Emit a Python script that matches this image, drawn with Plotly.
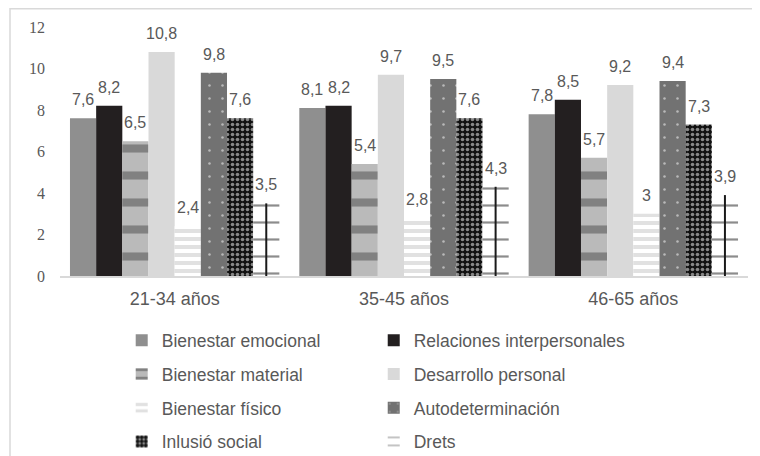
import plotly.graph_objects as go

categories = ["21-34 años", "35-45 años", "46-65 años"]
series_names = ["Bienestar emocional", "Relaciones interpersonales", "Bienestar material",
                "Desarrollo personal", "Bienestar físico", "Autodeterminación",
                "Inlusió social", "Drets"]
bienestar_emocional = [7.6, 8.1, 7.8]
relaciones_interpersonales = [8.2, 8.2, 8.5]
bienestar_material = [6.5, 5.4, 5.7]
desarrollo_personal = [10.8, 9.7, 9.2]
bienestar_fisico = [2.4, 2.8, 3.0]
autodeterminacion = [9.8, 9.5, 9.4]
inclusio_social = [7.6, 7.6, 7.3]
drets = [3.5, 4.3, 3.9]
y_ticks = [0, 2, 4, 6, 8, 10, 12]

values = [bienestar_emocional, relaciones_interpersonales, bienestar_material,
          desarrollo_personal, bienestar_fisico, autodeterminacion, inclusio_social, drets]

styles = [
    dict(color="#8f8f8f"),
    dict(color="#231f20"),
    dict(color="#b8b8b8", pattern=dict(shape="-", fgcolor="#474747", bgcolor="#bababa", size=27, solidity=0.3)),
    dict(color="#d9d9d9"),
    dict(color="#ffffff", pattern=dict(shape="-", fgcolor="#c4c4c4", bgcolor="#ffffff", size=8, solidity=0.5)),
    dict(color="#727272", pattern=dict(shape=".", fgcolor="#ffffff", bgcolor="#727272", size=13, solidity=0.03)),
    dict(color="#111111", pattern=dict(shape=".", fgcolor="#ffffff", bgcolor="#111111", size=5, solidity=0.4)),
    dict(color="#ffffff", pattern=dict(shape="-", fgcolor="#1a1a1a", bgcolor="#ffffff", size=17, solidity=0.13),
         center_line=True),
]

W, H = 760, 456
ML, MR, MT, MB = 52, 20, 19, 188
BARGAP = 0.087
plot_w = W - ML - MR
plot_h = H - MT - MB
cat_w = plot_w / len(categories)
bar_w = cat_w * (1 - BARGAP) / len(series_names)

fig = go.Figure()
for i, (name, vals, st) in enumerate(zip(series_names, values, styles)):
    marker = dict(color=st["color"], line=dict(width=0))
    if "pattern" in st:
        marker["pattern"] = st["pattern"]
    kw = {}
    if st.get("center_line"):
        kw["error_y"] = dict(type="data", symmetric=False, array=[0] * len(vals),
                             arrayminus=vals, width=0, thickness=2, color="#1a1a1a")
    fig.add_trace(go.Bar(
        name=name, x=categories, y=vals, marker=marker,
        legend="legend" if i % 2 == 0 else "legend2",
        legendgroup=name, hoverinfo="skip", **kw,
    ))

annotations = []
for i, vals in enumerate(values):
    for c, v in zip(categories, vals):
        annotations.append(dict(
            x=c, y=v, xref="x", yref="y", text=f"{v:g}".replace(".", ","),
            showarrow=False, xanchor="center", yanchor="bottom",
            xshift=(i - (len(series_names) - 1) / 2) * bar_w, yshift=8,
            font=dict(family="Liberation Sans", size=16, color="#595959"),
        ))

legend_font = dict(family="Liberation Sans", size=17.5, color="#595959")
fig.update_layout(
    width=W, height=H,
    margin=dict(l=ML, r=MR, t=MT, b=MB, autoexpand=False),
    paper_bgcolor="white", plot_bgcolor="white",
    barmode="group", bargap=BARGAP, bargroupgap=0,
    showlegend=True,
    legend=dict(x=0.0897, y=-0.186, xanchor="left", yanchor="top", orientation="v",
                font=legend_font, tracegroupgap=8, bgcolor="rgba(0,0,0,0)"),
    legend2=dict(x=0.456, y=-0.186, xanchor="left", yanchor="top", orientation="v",
                 font=legend_font, tracegroupgap=8, bgcolor="rgba(0,0,0,0)"),
    xaxis=dict(showline=True, linecolor="#d9d9d9", linewidth=1.5, ticks="",
               showgrid=False, zeroline=False,
               tickfont=dict(family="Liberation Sans", size=18, color="#595959"),
               ticklabelstandoff=6),
    yaxis=dict(range=[0, 12], tickvals=y_ticks, ticktext=[str(t) for t in y_ticks],
               showline=False, showgrid=False, zeroline=False, ticks="",
               tickfont=dict(family="Liberation Serif, Times New Roman, serif", size=16, color="#595959"),
               ticklabelstandoff=14),
    annotations=annotations,
    shapes=[dict(type="rect", xref="paper", yref="paper",
                 x0=(2 - ML) / plot_w, x1=1.2, y0=-1.5, y1=1 + (MT - 0.75) / plot_h,
                 line=dict(color="#d9d9d9", width=1.5), layer="below")],
)

fig.write_html("out.html")
